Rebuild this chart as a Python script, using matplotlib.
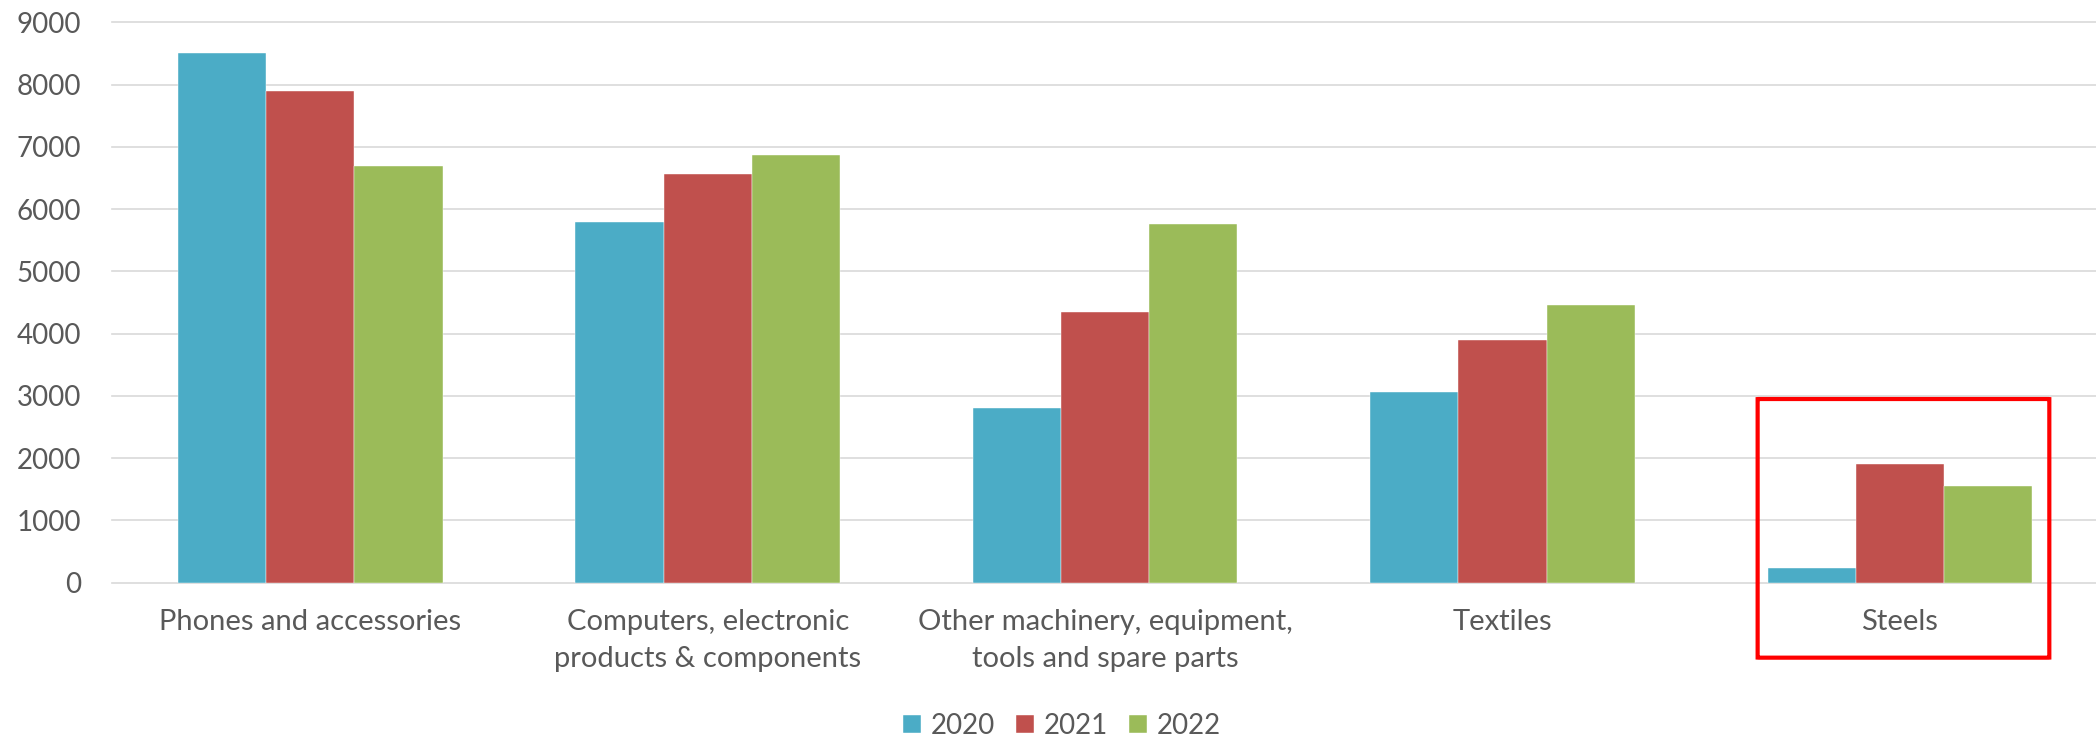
import matplotlib
matplotlib.use("Agg")
import matplotlib.pyplot as plt
import numpy as np
from matplotlib.patches import FancyBboxPatch

categories = ["Phones and accessories", "Computers, electronic\nproducts & components",
              "Other machinery, equipment,\ntools and spare parts", "Textiles", "Steels"]
years = ["2020", "2021", "2022"]
v2020 = [8500, 5800, 2800, 3070, 240]
v2021 = [7900, 6570, 4350, 3890, 1900]
v2022 = [6700, 6870, 5760, 4460, 1550]
colors = ["#4BACC6", "#C0504D", "#9BBB59"]
yticks = [0, 1000, 2000, 3000, 4000, 5000, 6000, 7000, 8000, 9000]

plt.rcParams['font.family'] = ['Lato', 'DejaVu Sans']
txt = "#595959"

W, H = 2096, 740
fig = plt.figure(figsize=(W / 100, H / 100), dpi=100)
left_px, right_px = 111.6, 2098.6
top_px, bot_px = 22.3, 582.7
ax = fig.add_axes([left_px / W, (H - bot_px) / H, (right_px - left_px) / W, (bot_px - top_px) / H])

x = np.arange(len(categories))
bw = 0.222
series = [v2020, v2021, v2022]
for i, (vals, c, lab) in enumerate(zip(series, colors, years)):
    ax.bar(x + (i - 1) * bw, vals, width=bw, color=c, label=lab, zorder=3,
           edgecolor="white", linewidth=0.3)

ax.set_xlim(-0.5, len(categories) - 0.5)
ax.set_ylim(0, 9000)
ax.set_yticks(yticks)
ax.set_yticklabels([str(t) for t in yticks], fontsize=20, color=txt)
ax.set_xticks(x)
ax.set_xticklabels(categories, fontsize=21, color=txt, linespacing=1.5)
ax.tick_params(axis="both", length=0)
ax.tick_params(axis="y", pad=22)
ax.tick_params(axis="x", pad=19)
for s in ax.spines.values():
    s.set_visible(False)
ax.yaxis.grid(True, color="#D9D9D9", linewidth=1.2, zorder=0)
for gl in ax.get_ygridlines():
    gl.set_clip_on(False)
ax.set_axisbelow(True)

leg = fig.legend(loc="center", bbox_to_anchor=(1062 / W, (H - 725.7) / H), ncol=3, frameon=False,
                 fontsize=20, handlelength=0.65, handleheight=0.65, handletextpad=0.35,
                 columnspacing=0.75, labelcolor=txt)

# red highlight box around Steels
box = FancyBboxPatch((4 - 0.358, -1204), 0.734, 2950 + 1204,
                     boxstyle="round,pad=0,rounding_size=0.008",
                     mutation_aspect=62.27 / 397.4 * 1000,
                     fill=False, edgecolor="#FF0000", linewidth=3.0, clip_on=False, zorder=5)
ax.add_patch(box)

fig.savefig("out.png", dpi=100)
